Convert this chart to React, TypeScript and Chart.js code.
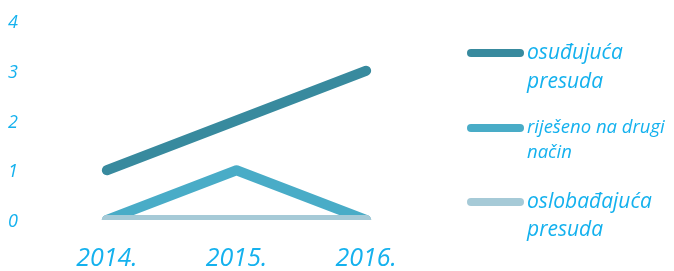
import React, { useEffect, useRef } from "react";
import { Chart, registerables } from "chart.js";

Chart.register(...registerables);

const categories = ["2014.", "2015.", "2016."];
const seriesNames = ["osuđujuća presuda", "riješeno na drugi način", "oslobađajuća presuda"];
const osudjujuca = [1, 2, 3];
const rijeseno = [0, 1, 0];
const oslobadjajuca = [0, 0, 0];
const yTicks = [0, 1, 2, 3, 4];

const colors = ["#388A9E", "#49ACC7", "#A6CAD7"];
const textColor = "#14B1EE";
const fontFamily = "'Open Sans', sans-serif";

const legendPlugin = {
  id: "sideLegend",
  afterDraw(chart: any) {
    const ctx = chart.ctx as CanvasRenderingContext2D;
    const items = [
      { y: 53, size: 21, lh: 29 },
      { y: 128, size: 18.5, lh: 25 },
      { y: 202, size: 21, lh: 28 },
    ];
    const x0 = 467;
    const x1 = 524;
    const tx = 527;
    const maxW = 674 - tx - 1;
    chart.data.datasets.forEach((ds: any, i: number) => {
      const it = items[i];
      ctx.save();
      ctx.strokeStyle = ds.borderColor;
      ctx.lineWidth = 8;
      ctx.lineCap = "round";
      ctx.beginPath();
      ctx.moveTo(x0 + 4, it.y);
      ctx.lineTo(x1 - 4, it.y);
      ctx.stroke();
      ctx.font = `italic ${it.size}px ${fontFamily}`;
      ctx.fillStyle = textColor;
      ctx.textBaseline = "middle";
      ctx.textAlign = "left";
      const words = String(ds.label).split(" ");
      const lines: string[] = [];
      let cur = "";
      for (const w of words) {
        const test = cur ? cur + " " + w : w;
        if (ctx.measureText(test).width > maxW && cur) {
          lines.push(cur);
          cur = w;
        } else cur = test;
      }
      if (cur) lines.push(cur);
      lines.forEach((l, k) => ctx.fillText(l, tx, it.y + k * it.lh));
      ctx.restore();
    });
  },
};

export default function App() {
  const ref = useRef<HTMLCanvasElement>(null);
  useEffect(() => {
    document.body.style.margin = "0";
    const values = [osudjujuca, rijeseno, oslobadjajuca];
    const chart = new Chart(ref.current!, {
      type: "line",
      data: {
        labels: categories,
        datasets: seriesNames.map((name, i) => ({
          label: name,
          data: values[i],
          borderColor: colors[i],
          backgroundColor: colors[i],
          borderWidth: 10,
          borderCapStyle: "round" as const,
          borderJoinStyle: "round" as const,
          pointRadius: 0,
          tension: 0,
          order: 2 - i,
        })),
      },
      options: {
        responsive: false,
        animation: false,
        layout: { padding: { left: 8, right: 243, top: 21, bottom: 0 } },
        plugins: { legend: { display: false }, tooltip: { enabled: false } },
        scales: {
          x: {
            offset: true,
            grid: { display: false, drawTicks: false },
            border: { display: false },
            ticks: {
              color: textColor,
              font: { family: fontFamily, size: 25, style: "italic" },
              padding: 24,
            },
            afterFit(scale: any) {
              scale.height = 51;
            },
          },
          y: {
            min: 0,
            max: 4,
            grid: { display: false, drawTicks: false },
            border: { display: false },
            afterBuildTicks(scale: any) {
              scale.ticks = yTicks.map((v) => ({ value: v }));
            },
            ticks: {
              color: textColor,
              font: { family: fontFamily, size: 18, style: "italic" },
              crossAlign: "far",
              padding: 0,
              labelOffset: 2,
            },
            afterFit(scale: any) {
              scale.width = 34;
            },
          },
        },
      },
      plugins: [legendPlugin],
    });
    return () => chart.destroy();
  }, []);
  return (
    <div style={{ width: 674, height: 271 }}>
      <canvas ref={ref} width={674} height={271} />
    </div>
  );
}
